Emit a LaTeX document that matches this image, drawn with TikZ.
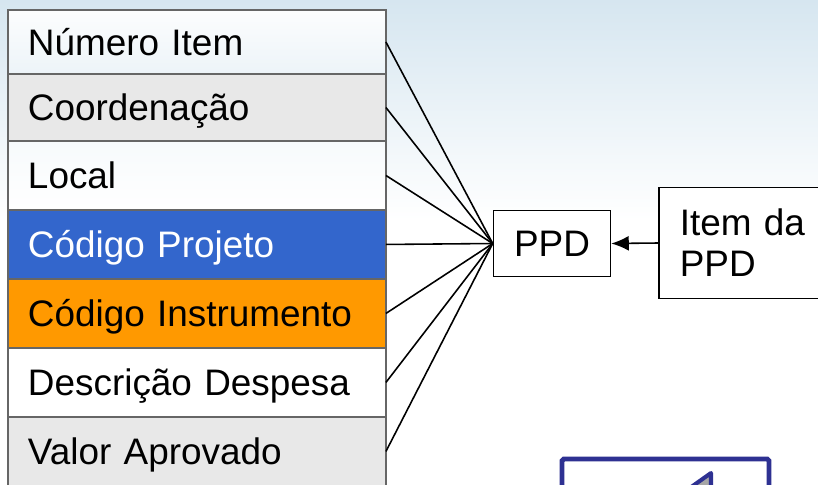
\documentclass[tikz,border=0pt]{standalone}
\usepackage{fontspec}
\setmainfont{Liberation Sans}
\usetikzlibrary{arrows.meta, positioning}
\definecolor{projblue}{HTML}{3366CC}
\definecolor{instorange}{HTML}{FF9900}
\definecolor{rowgray}{HTML}{E8E8E8}
\definecolor{bgblue}{HTML}{D6E6F0}
\definecolor{navyblue}{HTML}{2E3192}
\tikzset{
  campo/.style={rectangle, draw=black!60, line width=1pt, outer sep=0pt,
    minimum height=1.38cm, text width=6.76cm, inner xsep=0.4cm, align=left,
    text height=0.53cm, text depth=0pt, font=\fontsize{21}{25}\selectfont},
  caixa/.style={rectangle, draw, line width=0.9pt, fill=white,
    font=\fontsize{21}{23.3}\selectfont},
  liga/.style={line width=0.9pt},
  seta/.style={-{Latex[length=3.5mm, width=3mm]}, line width=0.9pt}
}

\begin{document}
\begin{tikzpicture}[x=0.02cm, y=-0.02cm]

\clip (0,0) rectangle (818,484);

% ---- fundo ----
\shade[top color=bgblue, bottom color=white] (0,0) rectangle (818,220);
\fill[white] (0,220) rectangle (818,484);

% ---- campos da tabela ----
\node[campo, top color=bgblue!95!black!5, bottom color=bgblue!45, anchor=north west,
  minimum height=1.28cm] (numero) at (8,10) {Número Item};
\node[campo, fill=rowgray, below=0pt of numero, minimum height=1.34cm] (coord) {Coordenação};
\node[campo, top color=bgblue!20, bottom color=white, below=0pt of coord] (local) {Local};
\node[campo, fill=projblue, text=white, below=0pt of local] (projeto) {Código Projeto};
\node[campo, fill=instorange, below=0pt of projeto] (instrumento) {Código Instrumento};
\node[campo, fill=white, below=0pt of instrumento] (descricao) {Descrição Despesa};
\node[campo, fill=rowgray, below=0pt of descricao] (valor) {Valor Aprovado};

% ---- ppd ----
\node[caixa, minimum width=2.34cm, minimum height=1.32cm] (ppd) at (552,243.5) {PPD};
\node[caixa, anchor=west, align=left, minimum height=2.22cm, text width=2.76cm,
  inner xsep=0.42cm] (itemppd) at (658,243) {Item da\\PPD};

% ---- conexoes ----
\foreach \c in {numero, coord, local, projeto, instrumento, descricao, valor}
  \draw[liga] (\c.east) -- (ppd.west);
\draw[seta] (itemppd.west) -- (ppd.east);

% ---- caixa inferior (cortada) ----
\draw[navyblue, line width=2.8pt, rounded corners=1pt] (562,459) rectangle (769,530);
\filldraw[draw=navyblue, fill=gray!70, line width=2.3pt, line join=round]
  (711,473) -- (687,490) -- (711,505) -- cycle;

\end{tikzpicture}
\end{document}
